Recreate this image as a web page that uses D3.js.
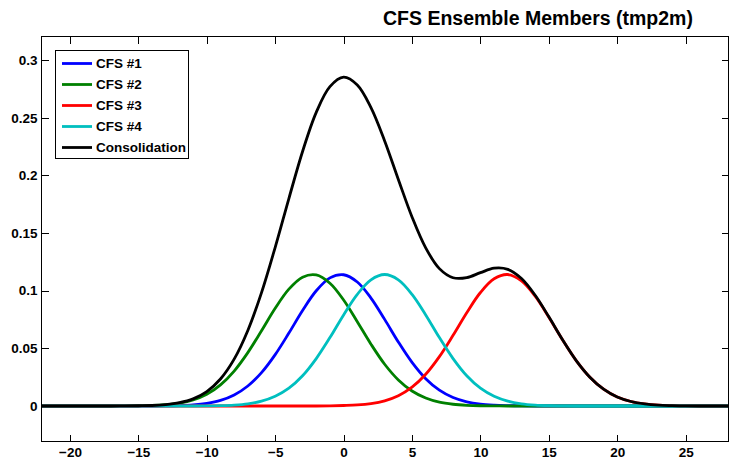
<!DOCTYPE html>
<html>
<head>
<meta charset="utf-8">
<script src="https://cdn.jsdelivr.net/npm/d3@7"></script>
<style>
  html, body { margin: 0; padding: 0; background: #fff; }
  svg { display: block; }
  text { font-family: "Liberation Sans", Arial, Helvetica, sans-serif; font-weight: bold; fill: #000; }
</style>
</head>
<body>
<svg id="chart" width="730" height="461"></svg>
<script>
// ---- Data ----
const xs = [-23,-22,-21,-20,-19,-18,-17,-16,-15,-14,-13,-12,-11,-10,-9,-8,-7,-6,-5,-4,-3,-2,-1,
            0,1,2,3,4,5,6,7,8,9,10,11,12,13,14,15,16,17,18,19,20,21,22,23,24,25,26,27,28,29];

const cfs1 = [0,0,0,0,0,0,0,0,0,0,
  0.0001,0.0004,0.0010,0.0023,0.0048,0.0095,0.0173,0.0289,0.0445,0.0632,0.0828,0.0999,0.1111,
  0.1138,0.1075,0.0936,0.0751,0.0555,0.0378,0.0237,0.0137,0.0073,0.0036,0.0016,0.0007,0.0003,0.0001,
  0,0,0,0,0,0,0,0,0,0,0,0,0,0,0,0];

const cfs2 = [0,0,0,0,0,0,0,
  0.0001,0.0002,0.0004,0.0011,0.0025,0.0052,0.0101,0.0183,0.0303,0.0463,0.0652,0.0847,0.1013,0.1117,0.1136,0.1064,
  0.0919,0.0731,0.0536,0.0362,0.0226,0.0130,0.0069,0.0033,0.0015,0.0006,0.0002,0.0001,
  0,0,0,0,0,0,0,0,0,0,0,0,0,0,0,0,0,0];

const cfs3 = [0,0,0,0,0,0,0,0,0,0,0,0,0,0,0,0,0,0,0,0,0,0,
  0.0001,0.0004,0.0009,0.0021,0.0045,0.0089,0.0163,0.0275,0.0428,0.0613,0.0809,0.0984,0.1103,0.1140,
  0.1085,0.0952,0.0770,0.0574,0.0394,0.0250,0.0146,0.0078,0.0039,0.0018,0.0007,0.0003,0.0001,
  0,0,0,0];

const cfs4 = [0,0,0,0,0,0,0,0,0,0,0,0,0,
  0.0001,0.0003,0.0008,0.0019,0.0042,0.0084,0.0154,0.0262,0.0411,0.0593,
  0.0790,0.0968,0.1094,0.1140,0.1094,0.0968,0.0790,0.0593,0.0411,0.0262,0.0154,0.0084,0.0042,0.0019,0.0008,0.0003,0.0001,
  0,0,0,0,0,0,0,0,0,0,0,0,0];

const consolidation = [0,0,0,0,0,0,0,
  0.0001,0.0002,0.0004,0.0012,0.0029,0.0062,0.0125,0.0234,0.0406,0.0655,0.0983,0.1376,0.1799,0.2207,0.2546,0.2769,
  0.2851,0.2783,0.2587,0.2298,0.1964,0.1639,0.1371,0.1191,0.1112,0.1113,0.1156,0.1195,0.1185,0.1105,0.0960,0.0773,
  0.0575,0.0394,0.0250,0.0146,0.0078,0.0039,0.0018,0.0007,0.0003,0.0001,
  0,0,0,0];

const seriesNames = ["CFS #1", "CFS #2", "CFS #3", "CFS #4", "Consolidation"];
const seriesColors = ["#0000ff", "#008000", "#ff0000", "#00bfbf", "#000000"];
const seriesValues = [cfs1, cfs2, cfs3, cfs4, consolidation];

const xTickValues = [-20, -15, -10, -5, 0, 5, 10, 15, 20, 25];
const xTickLabels = ["\u221220", "\u221215", "\u221210", "\u22125", "0", "5", "10", "15", "20", "25"];
const yTickValues = [0, 0.05, 0.1, 0.15, 0.2, 0.25, 0.3];
const yTickLabels = ["0", "0.05", "0.1", "0.15", "0.2", "0.25", "0.3"];
const titleText = "CFS Ensemble Members (tmp2m)";

// ---- Layout ----
const X0 = 41.5, X1 = 728.5, Y0 = 36.5, Y1 = 441.5;
const svg = d3.select("#chart");

const x = d3.scaleLinear().domain([-22.08, 28.13]).range([X0, X1]);
const y = d3.scaleLinear().domain([-0.0308, 0.3204]).range([Y1, Y0]);

svg.append("defs").append("clipPath").attr("id", "plotclip")
  .append("rect").attr("x", X0).attr("y", Y0).attr("width", X1 - X0).attr("height", Y1 - Y0);

// Lines
const line = d3.line()
  .x((d) => x(d[0]))
  .y((d) => y(d[1]))
  .curve(d3.curveCatmullRom.alpha(0.5));

const gLines = svg.append("g").attr("clip-path", "url(#plotclip)");
seriesValues.forEach((vals, i) => {
  gLines.append("path")
    .datum(xs.map((xv, j) => [xv, vals[j]]))
    .attr("fill", "none")
    .attr("stroke", seriesColors[i])
    .attr("stroke-width", 2.8)
    .attr("stroke-linejoin", "round")
    .attr("d", line);
});

// Axes (ticks inward on all four sides)
const TL = 7;
function styleAxis(g, fontSize) {
  g.select(".domain").remove();
  g.selectAll(".tick line").attr("stroke", "#000").attr("stroke-width", 1).attr("shape-rendering", "crispEdges");
  g.selectAll(".tick text").attr("font-size", fontSize)
    .attr("font-family", "'Liberation Sans', Arial, Helvetica, sans-serif")
    .attr("font-weight", "bold").attr("fill", "#000");
}

const gxB = svg.append("g").attr("transform", `translate(0,${Y1})`)
  .call(d3.axisBottom(x).tickValues(xTickValues).tickSize(-TL).tickPadding(6)
    .tickFormat((d, i) => xTickLabels[i]));
styleAxis(gxB, 13.5);

const gxT = svg.append("g").attr("transform", `translate(0,${Y0})`)
  .call(d3.axisTop(x).tickValues(xTickValues).tickSize(-TL).tickFormat(() => ""));
styleAxis(gxT, 13.5);

const gyL = svg.append("g").attr("transform", `translate(${X0},0)`)
  .call(d3.axisLeft(y).tickValues(yTickValues).tickSize(-TL).tickPadding(4)
    .tickFormat((d, i) => yTickLabels[i]));
styleAxis(gyL, 13.5);

const gyR = svg.append("g").attr("transform", `translate(${X1},0)`)
  .call(d3.axisRight(y).tickValues(yTickValues).tickSize(-TL).tickFormat(() => ""));
styleAxis(gyR, 13.5);

// Box
svg.append("rect")
  .attr("x", X0).attr("y", Y0).attr("width", X1 - X0).attr("height", Y1 - Y0)
  .attr("fill", "none").attr("stroke", "#000").attr("stroke-width", 1);

// Title
svg.append("text")
  .attr("x", 383).attr("y", 25)
  .attr("font-size", 19.5)
  .text(titleText);

// Legend
const LX = 55.5, LY = 50.5, LW = 133, LH = 108;
const legend = svg.append("g");
legend.append("rect").attr("x", LX).attr("y", LY).attr("width", LW).attr("height", LH)
  .attr("fill", "#fff").attr("stroke", "#000").attr("stroke-width", 1);
seriesNames.forEach((name, i) => {
  const cy = 63.5 + i * 21;
  legend.append("line").attr("x1", 62).attr("x2", 92).attr("y1", cy).attr("y2", cy)
    .attr("stroke", seriesColors[i]).attr("stroke-width", 2.8);
  legend.append("text").attr("x", 96).attr("y", cy).attr("dy", "0.36em")
    .attr("font-size", 13.5).text(name);
});
</script>
</body>
</html>
